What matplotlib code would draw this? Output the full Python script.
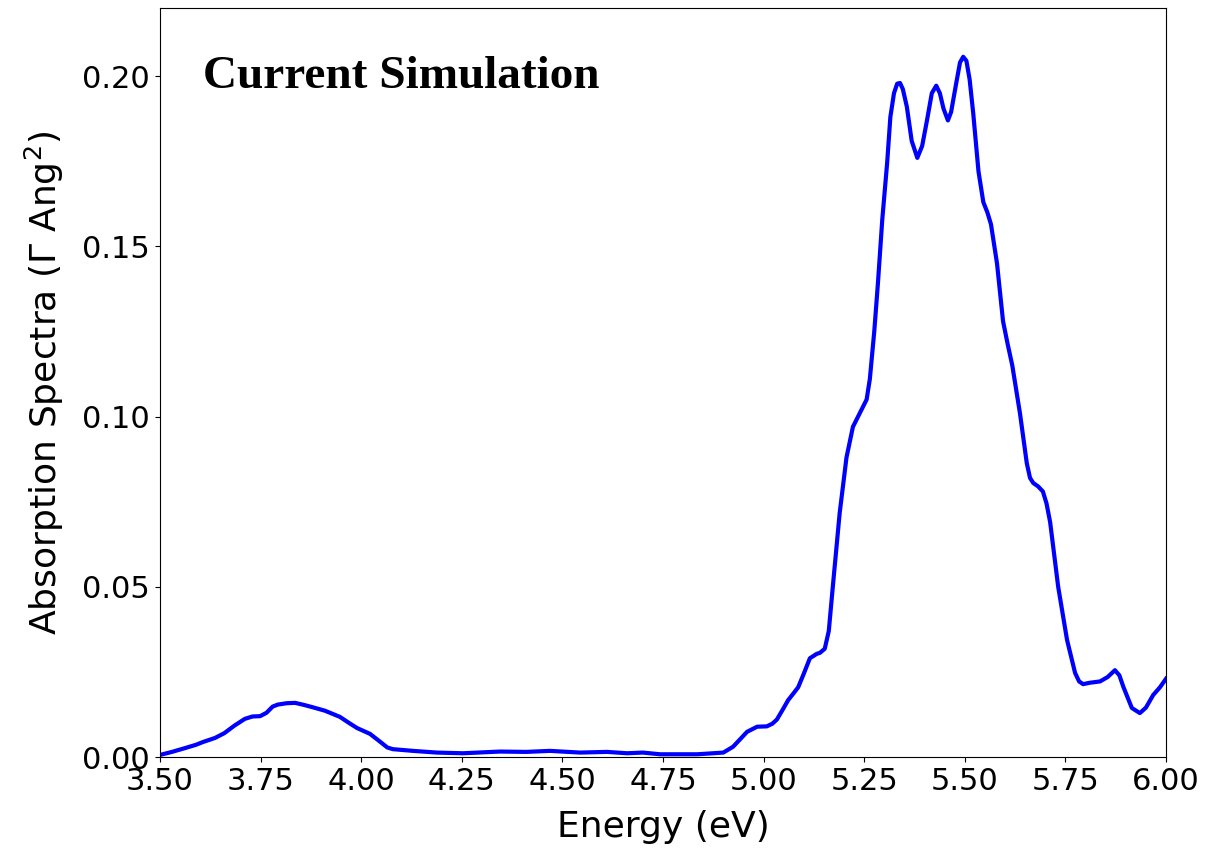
import matplotlib
matplotlib.use("Agg")
import matplotlib.pyplot as plt

energy = [3.50, 3.53, 3.562, 3.59, 3.607, 3.637, 3.66, 3.685, 3.711, 3.73,
          3.749, 3.765, 3.78, 3.793, 3.815, 3.836, 3.858, 3.880, 3.91, 3.947,
          3.97, 3.99, 4.022, 4.047, 4.065, 4.079, 4.129, 4.188, 4.253, 4.345,
          4.41, 4.469, 4.544, 4.611, 4.661, 4.70, 4.743, 4.835, 4.900, 4.924,
          4.94, 4.959, 4.984, 5.008, 5.022, 5.033, 5.047, 5.061, 5.075, 5.086,
          5.10, 5.115, 5.132, 5.14, 5.152, 5.162, 5.172, 5.189, 5.206, 5.222, 5.239,
          5.256, 5.264, 5.275, 5.284, 5.295, 5.307, 5.315, 5.324, 5.332, 5.339,
          5.346, 5.356, 5.368, 5.382, 5.394, 5.406, 5.418, 5.429, 5.438, 5.447,
          5.458, 5.466, 5.478, 5.488, 5.496, 5.504, 5.512, 5.521, 5.534, 5.546,
          5.556, 5.565, 5.58, 5.595, 5.607, 5.618, 5.637, 5.654, 5.662, 5.67,
          5.682, 5.694, 5.703, 5.712, 5.732, 5.754, 5.774, 5.784, 5.794, 5.81,
          5.836, 5.855, 5.873, 5.884, 5.894, 5.915, 5.935, 5.95, 5.968, 5.985,
          6.0]
absorption = [0.0006, 0.0015, 0.0026, 0.0036, 0.0044, 0.0056, 0.0070, 0.0092, 0.0112, 0.0119,
              0.0120, 0.0130, 0.0148, 0.0154, 0.0158, 0.0159, 0.0153, 0.0146, 0.0136, 0.0118,
              0.0100, 0.0085, 0.0068, 0.0045, 0.0028, 0.0023, 0.0018, 0.0013, 0.0011, 0.0016,
              0.0015, 0.0018, 0.0013, 0.0015, 0.0011, 0.0013, 0.0008, 0.0008, 0.0013, 0.0030,
              0.0050, 0.0074, 0.0089, 0.0090, 0.0098, 0.0110, 0.0138, 0.0167, 0.0188, 0.0205,
              0.0245, 0.0290, 0.0303, 0.0306, 0.0318, 0.0370, 0.0500, 0.0716, 0.0880, 0.0970, 0.1010,
              0.1050, 0.1110, 0.1250, 0.1390, 0.1580, 0.1745, 0.1880, 0.1950, 0.1978, 0.1980,
              0.1962, 0.1910, 0.1810, 0.1760, 0.1795, 0.1870, 0.1950, 0.1972, 0.1950, 0.1905,
              0.1870, 0.1895, 0.1975, 0.2040, 0.2057, 0.2045, 0.1990, 0.1890, 0.1720, 0.1630,
              0.1600, 0.1565, 0.1450, 0.1280, 0.1210, 0.1150, 0.1010, 0.0863, 0.0820, 0.0805,
              0.0795, 0.0780, 0.0745, 0.0690, 0.0500, 0.0344, 0.0247, 0.0222, 0.0214, 0.0218,
              0.0222, 0.0235, 0.0255, 0.0240, 0.0206, 0.0144, 0.0129, 0.0145, 0.0182, 0.0205,
              0.0230]

xticks = [3.50, 3.75, 4.00, 4.25, 4.50, 4.75, 5.00, 5.25, 5.50, 5.75, 6.00]
yticks = [0.00, 0.05, 0.10, 0.15, 0.20]

plt.rcParams['font.family'] = ['DejaVu Sans']
plt.rcParams['mathtext.default'] = 'regular'
fig = plt.figure(figsize=(12.3, 8.52), dpi=100)
ax = fig.add_axes([0.130, 0.1115, 0.818, 0.879])
ax.plot(energy, absorption, color='blue', lw=3, solid_joinstyle='round')
ax.set_xlim(3.5, 6.0)
ax.set_ylim(0, 0.22)
ax.set_xticks(xticks)
ax.set_xticklabels([f"{t:.2f}" for t in xticks])
ax.set_yticks(yticks)
ax.set_yticklabels([f"{t:.2f}" for t in yticks])
ax.tick_params(labelsize=22)
ax.set_xlabel("Energy (eV)", fontsize=26, labelpad=10)
ax.set_ylabel(r"Absorption Spectra ($\Gamma$ Ang$^2$)", fontsize=26, labelpad=12)
ax.text(0.043, 0.893, "Current Simulation", transform=ax.transAxes,
        fontsize=34, fontweight='bold', family='Liberation Serif', va='baseline')
fig.savefig("out.png", dpi=100)
